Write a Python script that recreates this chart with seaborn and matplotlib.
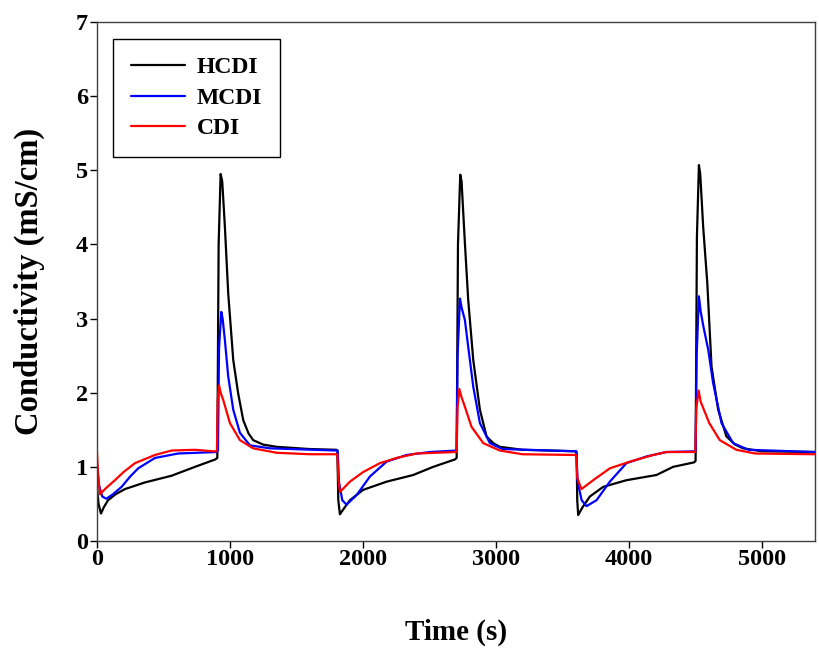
"""Conductivity profiles for HCDI, MCDI and CDI over three cycles."""

import matplotlib

matplotlib.use("Agg")
import matplotlib.pyplot as plt
import pandas as pd
import seaborn as sns

# HCDI (black)
hcdi_t = [0, 12, 30, 50, 83, 140, 210, 361, 561, 737, 890, 905, 915, 930, 942,
          962, 987, 1025, 1062, 1100, 1140, 1175, 1250, 1351, 1600, 1800,
          1808, 1815, 1827, 1850, 1902, 2002, 2178, 2378, 2529, 2692, 2705,
          2715, 2732, 2742, 2767, 2792, 2830, 2880, 2930, 2980, 3030, 3200,
          3600, 3607, 3612, 3619, 3650, 3707, 3807, 3982, 4208, 4333, 4490,
          4502, 4512, 4527, 4537, 4559, 4590, 4622, 4672, 4734, 4800, 4859,
          5000, 5400]
hcdi_y = [0.72, 0.50, 0.37, 0.45, 0.55, 0.63, 0.70, 0.79, 0.88, 1.00, 1.10,
          1.12, 4.00, 4.95, 4.85, 4.24, 3.34, 2.44, 1.99, 1.63, 1.45, 1.36,
          1.30, 1.27, 1.24, 1.23,
          1.22, 0.55, 0.36, 0.42, 0.55, 0.69, 0.80, 0.89, 1.00, 1.10, 1.12,
          4.00, 4.94, 4.85, 4.02, 3.25, 2.44, 1.77, 1.41, 1.32, 1.27, 1.23,
          1.21, 1.20, 0.55, 0.35, 0.45, 0.60, 0.73, 0.82, 0.89, 1.00, 1.06,
          1.08, 4.10, 5.07, 4.95, 4.24, 3.48, 2.35, 1.77, 1.41, 1.30, 1.25,
          1.21, 1.20]

# MCDI (blue)
mcdi_t = [0, 15, 40, 70, 120, 185, 250, 310, 436, 610, 900, 910, 918, 935,
          945, 962, 987, 1025, 1075, 1150, 1300, 1800,
          1810, 1820, 1845, 1877, 1953, 2053, 2178, 2329, 2504, 2705, 2712,
          2730, 2742, 2767, 2792, 2830, 2880, 2955, 3050, 3600,
          3605, 3615, 3645, 3682, 3757, 3857, 3982, 4133, 4283, 4502, 4510,
          4527, 4540, 4560, 4597, 4634, 4697, 4784, 4900, 5400]
mcdi_y = [1.05, 0.75, 0.60, 0.57, 0.63, 0.73, 0.87, 0.98, 1.12, 1.18, 1.20,
          1.22, 2.60, 3.09, 3.00, 2.71, 2.22, 1.77, 1.46, 1.29, 1.25, 1.22,
          1.22, 0.80, 0.55, 0.49, 0.62, 0.87, 1.07, 1.16, 1.20, 1.22, 2.50,
          3.27, 3.15, 2.98, 2.62, 2.08, 1.59, 1.32, 1.24, 1.21,
          1.21, 0.80, 0.55, 0.47, 0.55, 0.80, 1.05, 1.14, 1.20, 1.21, 2.50,
          3.30, 3.10, 2.90, 2.58, 2.13, 1.59, 1.32, 1.23, 1.20]

# CDI (red)
cdi_t = [0, 8, 23, 60, 135, 200, 286, 436, 561, 737, 872, 902, 908, 918, 930,
         950, 1000, 1075, 1175, 1351, 1600, 1800,
         1808, 1815, 1827, 1902, 2002, 2128, 2253, 2403, 2692, 2705, 2712,
         2725, 2740, 2767, 2817, 2905, 3030, 3200, 3600,
         3605, 3612, 3644, 3732, 3857, 4008, 4183, 4283, 4500, 4508, 4525,
         4540, 4605, 4684, 4809, 4950, 5400]
cdi_y = [1.20, 0.90, 0.63, 0.70, 0.82, 0.93, 1.05, 1.16, 1.22, 1.23, 1.21,
         1.21, 1.90, 2.10, 2.00, 1.90, 1.59, 1.36, 1.25, 1.19, 1.17, 1.17,
         1.17, 0.85, 0.66, 0.80, 0.93, 1.05, 1.12, 1.18, 1.20, 1.20, 1.80,
         2.05, 1.95, 1.81, 1.54, 1.32, 1.22, 1.17, 1.16,
         1.16, 0.85, 0.70, 0.82, 0.98, 1.07, 1.16, 1.20, 1.20, 1.80, 2.03,
         1.88, 1.59, 1.36, 1.23, 1.18, 1.17]

SERIES = ["HCDI", "MCDI", "CDI"]
COLORS = {"HCDI": "black", "MCDI": "blue", "CDI": "red"}


def build_frame() -> pd.DataFrame:
    """Stack the three traces into one long-form table."""
    parts = []
    for name, t, y in [("HCDI", hcdi_t, hcdi_y), ("MCDI", mcdi_t, mcdi_y),
                       ("CDI", cdi_t, cdi_y)]:
        parts.append(pd.DataFrame({"time": t, "cond": y, "series": name}))
    return pd.concat(parts, ignore_index=True)


def main() -> None:
    sns.set_style("ticks")
    plt.rcParams["font.family"] = ["Liberation Serif", "DejaVu Serif"]
    plt.rcParams["font.weight"] = "bold"
    plt.rcParams["text.color"] = "black"
    plt.rcParams["axes.labelcolor"] = "black"
    plt.rcParams["xtick.color"] = "black"
    plt.rcParams["ytick.color"] = "black"

    data = build_frame()
    fig = plt.figure(figsize=(8.19, 6.5), dpi=100)
    ax = fig.add_axes([0.1184, 0.1677, 0.8767, 0.7985])

    sns.lineplot(
        data=data,
        x="time",
        y="cond",
        hue="series",
        hue_order=SERIES,
        palette=COLORS,
        estimator=None,
        sort=False,
        linewidth=1.6,
        ax=ax,
    )

    ax.set_xlim(0, 5400)
    ax.set_ylim(0, 7)
    ax.set_xticks(range(0, 5001, 1000))
    ax.set_yticks(range(0, 8))
    ax.tick_params(direction="out", length=5, width=1, labelsize=17.5,
                   top=False, right=False, colors="black")
    ax.tick_params(axis="x", pad=1)
    ax.tick_params(axis="y", pad=1.5)
    for lab in ax.get_xticklabels() + ax.get_yticklabels():
        lab.set_fontweight("bold")
    for spine in ax.spines.values():
        spine.set_visible(True)
        spine.set_color("#404040")
        spine.set_linewidth(1)

    ax.set_xlabel("Time (s)", fontsize=21, fontweight="bold", labelpad=35)
    ax.set_ylabel("Conductivity (mS/cm)", fontsize=23.5, fontweight="bold",
                  labelpad=22)

    leg = ax.legend(
        loc="upper left",
        bbox_to_anchor=(0.0223, 0.967),
        borderaxespad=0,
        frameon=True,
        fancybox=False,
        edgecolor="black",
        handlelength=2.3,
        handletextpad=0.5,
        borderpad=0.75,
        labelspacing=0.38,
        prop={"family": "Liberation Serif", "weight": "bold", "size": 17},
    )
    leg.get_frame().set_linewidth(1)
    leg.get_frame().set_alpha(1)

    fig.savefig("out.png", dpi=100)
    plt.close(fig)


if __name__ == "__main__":
    main()
